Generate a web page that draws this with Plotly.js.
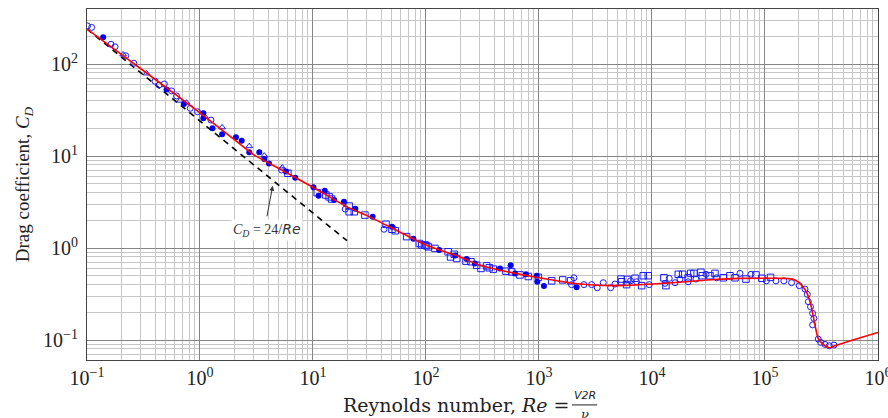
<!DOCTYPE html>
<html>
<head>
<meta charset="utf-8">
<script src="https://cdn.plot.ly/plotly-3.0.1.min.js"></script>
<style>html,body{margin:0;padding:0;background:#fff;}#chart{width:888px;height:418px;}</style>
</head>
<body>
<div id="chart"></div>
<script>
// Standard drag curve (red)
const curveRe = [0.1, 0.2, 0.5, 1, 2, 3, 5, 10, 20, 30, 50, 100, 200, 300, 500, 1000, 2000, 3000, 5000, 1e4, 2e4, 3e4, 6e4, 1e5, 1.5e5, 1.8e5, 2.0e5, 2.2e5, 2.34e5, 2.48e5, 2.59e5, 2.77e5, 2.96e5, 3.27e5, 3.71e5, 4.16e5, 6e5, 1e6];
const curveCd = [240, 128, 55.8, 29.5, 15.2, 10.3, 7.3, 4.57, 2.8, 2.25, 1.65, 1.08, 0.80, 0.65, 0.56, 0.475, 0.415, 0.396, 0.39, 0.406, 0.43, 0.45, 0.468, 0.47, 0.468, 0.455, 0.42, 0.37, 0.33, 0.27, 0.221, 0.146, 0.104, 0.0897, 0.0824, 0.0867, 0.1, 0.121];

// Stokes law line CD = 24/Re (dashed)
const stokesRe = [0.1, 20];
const stokesCd = [240, 1.2];

// Experimental data: filled circles
const filledRe = [0.139, 0.506, 0.72, 1.07, 1.07, 1.29, 1.57, 2.08, 2.34, 2.73, 3.35, 3.71, 4.08, 5.77, 6.97, 10.1, 11.2, 12.7, 15.4, 18.8, 23.7, 33.7, 50, 77.3, 131, 181, 229, 271, 452, 561, 614, 768, 955, 966, 1107, 2153];
const filledCd = [195, 53, 36.7, 29.1, 25.7, 20, 17.2, 16.0, 14.7, 11.0, 11.0, 9.3, 8.3, 6.8, 5.8, 4.57, 3.7, 4.2, 3.33, 3.19, 2.67, 2.19, 1.7, 1.26, 0.95, 0.83, 0.76, 0.68, 0.60, 0.65, 0.53, 0.52, 0.50, 0.43, 0.386, 0.374];

// Open circles
const circleRe = [0.101, 0.11, 0.163, 0.177, 0.22, 0.26, 0.40, 0.434, 0.483, 0.56, 0.62, 0.82, 0.95, 1.25, 5.27, 19.3, 42.5, 1941, 2040, 2500, 2924, 3280, 3706, 4310, 4705, 6460, 7310, 9460, 13040, 14220, 15990, 17700, 20900, 24500, 30100, 37400, 60100, 75200, 103000, 125000, 147000, 172000, 201000, 226000, 237000, 242000, 253000, 264000, 271000, 264000, 296000, 311000, 340000, 371000, 408000];
const circleCd = [259, 250, 164, 154, 123, 102, 65, 59, 60.7, 51, 45, 33, 30.3, 24.6, 7.05, 2.65, 1.6, 0.40, 0.475, 0.40, 0.40, 0.37, 0.42, 0.37, 0.406, 0.44, 0.43, 0.40, 0.413, 0.468, 0.42, 0.46, 0.43, 0.46, 0.518, 0.475, 0.53, 0.518, 0.44, 0.44, 0.44, 0.42, 0.39, 0.358, 0.314, 0.261, 0.23, 0.195, 0.172, 0.146, 0.1025, 0.0944, 0.0897, 0.0867, 0.0883];

// Open squares
const squareRe = [6.0, 10.9, 13.0, 13.9, 14.6, 20.9, 20.9, 23.2, 28.8, 44.3, 50, 53.5, 67.4, 87.3, 91.6, 98, 101, 105, 120, 157, 165, 178, 187, 226, 250, 281, 307, 344, 363, 394, 510, 573, 679, 805, 987, 1295, 1622, 1906, 5317, 5380, 5960, 6080, 7080, 8100, 8370, 9270, 12760, 13300, 17100, 18700, 20900, 22000, 23500, 27100, 27900, 32600, 36100, 42800, 49000, 54300, 67900, 83200, 94000, 112000];
const squareCd = [6.5, 4.0, 3.77, 3.6, 3.41, 2.86, 2.48, 2.48, 2.28, 1.81, 1.6, 1.54, 1.33, 1.12, 1.08, 1.08, 1.06, 1.03, 0.99, 0.91, 0.80, 0.855, 0.77, 0.72, 0.71, 0.65, 0.60, 0.64, 0.61, 0.59, 0.56, 0.55, 0.51, 0.49, 0.48, 0.44, 0.45, 0.44, 0.46, 0.43, 0.40, 0.456, 0.469, 0.39, 0.50, 0.50, 0.475, 0.39, 0.518, 0.518, 0.475, 0.53, 0.53, 0.545, 0.50, 0.50, 0.53, 0.475, 0.50, 0.475, 0.46, 0.51, 0.469, 0.48];

// Open triangles
const triRe = [0.209, 0.337, 0.665, 0.76, 1.1, 1.57, 2.73, 3.71, 5.35];
const triCd = [127, 79, 40, 38, 27, 20.5, 12.8, 10.1, 7.5];

// Tick labels
const xTickVals = [0.1, 1, 10, 100, 1e3, 1e4, 1e5, 1e6];
const xTickText = ['10<sup>−1</sup>', '10<sup>0</sup>', '10<sup>1</sup>', '10<sup>2</sup>', '10<sup>3</sup>', '10<sup>4</sup>', '10<sup>5</sup>', '10<sup>6</sup>'];
const yTickVals = [0.1, 1, 10, 100];
const yTickText = ['10<sup>−1</sup>', '10<sup>0</sup>', '10<sup>1</sup>', '10<sup>2</sup>'];

const blue = '#1a1aff';
const serif = 'Liberation Serif, DejaVu Serif, serif';

const traces = [
  {x: stokesRe, y: stokesCd, mode: 'lines', line: {color: '#000', width: 1.6, dash: '6px,5px'}, hoverinfo: 'skip'},
  {x: squareRe, y: squareCd, mode: 'markers', marker: {symbol: 'square-open', size: 6.5, color: blue, line: {width: 1}}},
  {x: circleRe, y: circleCd, mode: 'markers', marker: {symbol: 'circle-open', size: 6, color: blue, line: {width: 1}}},
  {x: triRe, y: triCd, mode: 'markers', marker: {symbol: 'triangle-up-open', size: 6, color: blue, line: {width: 1}}},
  {x: filledRe, y: filledCd, mode: 'markers', marker: {symbol: 'circle', size: 6, color: '#0000ee'}},
  {x: curveRe, y: curveCd, mode: 'lines', line: {color: '#ff0000', width: 1.6, shape: 'spline', smoothing: 0.6}, hoverinfo: 'skip'}
];

const axisCommon = {
  type: 'log',
  tickmode: 'array',
  showgrid: true,
  gridcolor: '#858585',
  gridwidth: 1,
  minor: {dtick: 'D1', showgrid: true, gridcolor: '#c6c6c6', gridwidth: 1},
  showline: true,
  linecolor: '#444',
  linewidth: 1,
  mirror: true,
  ticks: '',
  zeroline: false,
  ticklabeloverflow: 'allow',
  tickfont: {family: serif, size: 20, color: '#222'}
};

const layout = {
  width: 888,
  height: 418,
  margin: {l: 87, r: 10, t: 9, b: 58},
  paper_bgcolor: '#fff',
  plot_bgcolor: '#fff',
  showlegend: false,
  font: {family: serif, color: '#222'},
  xaxis: Object.assign({}, axisCommon, {range: [-1, 6.0004], tickvals: xTickVals, ticktext: xTickText, ticklabelstandoff: 0}),
  yaxis: Object.assign({}, axisCommon, {range: [-1.217, 2.598], tickvals: yTickVals, ticktext: yTickText, ticklabelstandoff: 4,
    title: {text: 'Drag coefficient, <i>C</i><sub><i>D</i></sub>', font: {family: serif, size: 19, color: '#222'}, standoff: 8}}),
  annotations: [
    {xref: 'paper', yref: 'paper', x: 0.613, y: -0.128, xanchor: 'right', yanchor: 'middle',
     text: 'Reynolds number, <i>Re</i> =', showarrow: false, font: {family: 'DejaVu Serif, serif', size: 19, color: '#222'}},
    {xref: 'paper', yref: 'paper', x: 0.629, y: -0.101, xanchor: 'center', yanchor: 'middle',
     text: '<i>V2R</i>', showarrow: false, font: {family: 'DejaVu Sans, sans-serif', size: 11, color: '#222'}},
    {xref: 'paper', yref: 'paper', x: 0.629, y: -0.156, xanchor: 'center', yanchor: 'middle',
     text: '<i>ν</i>', showarrow: false, font: {family: 'DejaVu Serif, serif', size: 13, color: '#222'}},
    {x: Math.log10(3.92), y: Math.log10(1.57), xref: 'x', yref: 'y', showarrow: false,
     text: '<i>C</i><sub><i>D</i></sub> = 24/<i style="font-family:DejaVu Sans">Re</i>',
     bgcolor: '#fff', font: {family: serif, size: 14, color: '#333'}},
    {x: Math.log10(4.4), y: Math.log10(4.75), xref: 'x', yref: 'y', text: '', showarrow: true,
     ax: -6, ay: 32, arrowhead: 2, arrowsize: 1, arrowwidth: 1, arrowcolor: '#333'}
  ],
  shapes: [
    {type: 'line', xref: 'paper', yref: 'paper', x0: 0.613, x1: 0.645, y0: -0.128, y1: -0.128, line: {color: '#222', width: 1}}
  ]
};

Plotly.newPlot('chart', traces, layout, {displayModeBar: false, staticPlot: true});
</script>
</body>
</html>
